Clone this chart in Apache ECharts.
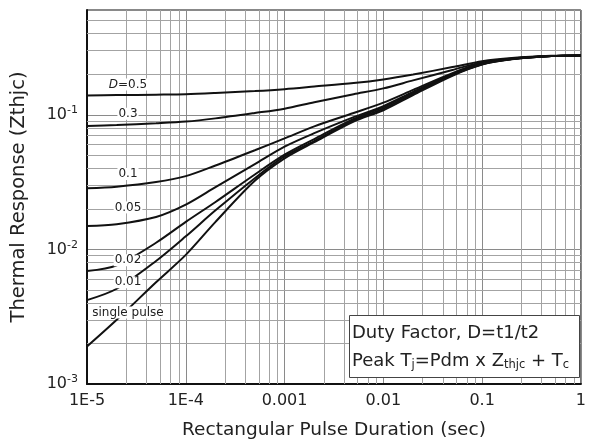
<!DOCTYPE html>
<html><head><meta charset="utf-8">
<script src="https://cdn.jsdelivr.net/npm/echarts@6/dist/echarts.min.js"></script>
<style>html,body{margin:0;padding:0;background:#fff}#c{width:589px;height:446px}</style>
</head><body><div id="c"></div>
<script>
// pulse durations (sec)
const durations = [1e-5, 2e-5, 5e-5, 1e-4, 2e-4, 5e-4, 1e-3, 2e-3, 5e-3, 1e-2, 2e-2, 5e-2, 0.1, 0.2, 0.5, 1];
// thermal response per duty factor
const d05    = [0.139, 0.140, 0.141, 0.142, 0.145, 0.150, 0.155, 0.162, 0.172, 0.183, 0.199, 0.226, 0.250, 0.264, 0.274, 0.276];
const d03    = [0.0825, 0.0840, 0.0865, 0.089, 0.094, 0.103, 0.111, 0.124, 0.142, 0.157, 0.180, 0.215, 0.246, 0.262, 0.273, 0.276];
const d01    = [0.0284, 0.0292, 0.0316, 0.0350, 0.0420, 0.0545, 0.0667, 0.082, 0.103, 0.123, 0.153, 0.204, 0.242, 0.261, 0.273, 0.276];
const d005   = [0.0149, 0.0154, 0.0174, 0.0215, 0.029, 0.043, 0.058, 0.073, 0.096, 0.116, 0.148, 0.200, 0.240, 0.260, 0.273, 0.276];
const d002   = [0.0069, 0.0076, 0.0112, 0.0160, 0.0225, 0.0360, 0.0505, 0.066, 0.093, 0.114, 0.146, 0.198, 0.238, 0.259, 0.273, 0.276];
const d001   = [0.0042, 0.0051, 0.0082, 0.0125, 0.0195, 0.0338, 0.0490, 0.0637, 0.091, 0.111, 0.143, 0.197, 0.237, 0.259, 0.273, 0.276];
const single = [0.0019, 0.0030, 0.0057, 0.0091, 0.0160, 0.0323, 0.0474, 0.0626, 0.089, 0.108, 0.140, 0.195, 0.236, 0.258, 0.273, 0.276];

const seriesLabels = ['{i|D}=0.5', '0.3', '0.1', '0.05', '0.02', '0.01', 'single pulse'];
const seriesData = [d05, d03, d01, d005, d002, d001, single];
// label anchors (data coordinates)
const labelDuration = 2.6e-5;
const labelLevels = [0.168, 0.1017, 0.0363, 0.0205, 0.0083, 0.0057, 0.0034];

const xTickLabels = ['1E-5', '1E-4', '0.001', '0.01', '0.1', '1'];
const yTickExponents = ['-3', '-2', '-1'];
const xMinorSteps = [2.5, 4, 5.5, 7, 8.5];
const yMinorSteps = [2, 3, 4, 5, 6, 7, 8, 9];

const FONT = 'DejaVu Sans';
const X_MIN = 1e-5, X_MAX = 1, Y_MIN = 0.001, Y_MAX = 0.6;

const xMinor = [];
for (let e = -5; e < 0; e++) xMinorSteps.forEach(s => xMinor.push(s * Math.pow(10, e)));
const yMinor = [];
for (let e = -3; e < 0; e++) yMinorSteps.forEach(s => { const v = s * Math.pow(10, e); if (v < Y_MAX) yMinor.push(v); });

const gridLines = xMinor.map(v => [{ coord: [v, Y_MIN] }, { coord: [v, Y_MAX] }])
  .concat(yMinor.map(v => [{ coord: [X_MIN, v] }, { coord: [X_MAX, v] }]));

const series = seriesData.map((vals, i) => {
  const s = {
    type: 'line',
    name: seriesLabels[i],
    data: durations.map((t, k) => [t, vals[k]]),
    showSymbol: false,
    symbol: 'none',
    smooth: 0.3,
    lineStyle: { color: '#111', width: 2 },
    z: 3,
    silent: true,
    markPoint: {
      z: 6,
      symbol: 'circle',
      symbolSize: 0,
      silent: true,
      label: {
        show: true, position: 'inside', formatter: seriesLabels[i],
        color: '#222', fontSize: 12, fontFamily: FONT,
        backgroundColor: '#fff', padding: [0, 1],
        rich: { i: { fontStyle: 'italic', fontSize: 12, fontFamily: FONT, color: '#222' } }
      },
      data: [{ coord: [labelDuration, labelLevels[i]] }]
    }
  };
  if (i === seriesData.length - 1) {
    s.markLine = {
      z: 1, silent: true, symbol: ['none', 'none'], precision: 10,
      label: { show: false },
      lineStyle: { color: '#a3a3a3', width: 1, type: 'solid' },
      emphasis: { disabled: true },
      data: gridLines
    };
  }
  return s;
});

const chart = echarts.init(document.getElementById('c'), null, { renderer: 'canvas' });
chart.setOption({
  animation: false,
  backgroundColor: '#fff',
  grid: { left: 87, right: 3, top: 10, bottom: 62, show: true, borderColor: '#111', borderWidth: 1, backgroundColor: 'transparent' },
  xAxis: {
    type: 'log', logBase: 10, min: X_MIN, max: X_MAX, splitNumber: 5,
    name: 'Rectangular Pulse Duration (sec)', nameLocation: 'middle', nameGap: 37,
    nameTextStyle: { fontSize: 18.5, fontFamily: FONT, color: '#222' },
    axisLine: { show: true, lineStyle: { color: '#111', width: 2 } },
    axisTick: { show: false },
    splitLine: { show: true, lineStyle: { color: '#8a8a8a', width: 1 } },
    minorSplitLine: { show: false }, minorTick: { show: false },
    axisLabel: {
      margin: 9, color: '#222', fontSize: 16, fontFamily: FONT,
      formatter: v => { const i = Math.round(Math.log10(v)) + 5; return xTickLabels[i] || ''; }
    }
  },
  yAxis: {
    type: 'log', logBase: 10, min: Y_MIN, max: Y_MAX, splitNumber: 3,
    name: 'Thermal Response (Zthjc)', nameLocation: 'middle', nameGap: 58,
    nameTextStyle: { fontSize: 19.5, fontFamily: FONT, color: '#222' },
    axisLine: { show: true, lineStyle: { color: '#111', width: 2 } },
    axisTick: { show: false },
    splitLine: { show: true, lineStyle: { color: '#8a8a8a', width: 1 } },
    minorSplitLine: { show: false }, minorTick: { show: false },
    axisLabel: {
      margin: 9, color: '#222', fontSize: 16, fontFamily: FONT,
      formatter: v => {
        const l = Math.log10(v), e = Math.round(l);
        if (Math.abs(l - e) > 1e-6) return '';
        const s = yTickExponents[e + 3];
        return s ? '{b|10}{s|' + s + '}' : '';
      },
      rich: {
        b: { fontSize: 16, fontFamily: FONT, color: '#222', lineHeight: 20 },
        s: { fontSize: 11, fontFamily: FONT, color: '#222', lineHeight: 10, verticalAlign: 'top' }
      }
    }
  },
  series: series,
  graphic: [
    { type: 'rect', z: 20, shape: { x: 349.5, y: 315.5, width: 230, height: 62 },
      style: { fill: '#fff', stroke: '#444', lineWidth: 1 } },
    { type: 'text', z: 21, x: 352, y: 333,
      style: { text: 'Duty Factor, D=t1/t2', fontSize: 18, fontFamily: FONT, fill: '#222', verticalAlign: 'middle' } },
    { type: 'text', z: 21, x: 352, y: 361,
      style: {
        text: 'Peak T{s|j}=Pdm x Z{s|thjc} + T{s|c}', fontSize: 18, fontFamily: FONT, fill: '#222',
        verticalAlign: 'middle', lineHeight: 20,
        rich: { s: { fontSize: 11.5, fontFamily: FONT, fill: '#222', lineHeight: 10, verticalAlign: 'bottom' } }
      } }
  ]
});
</script>
</body></html>
